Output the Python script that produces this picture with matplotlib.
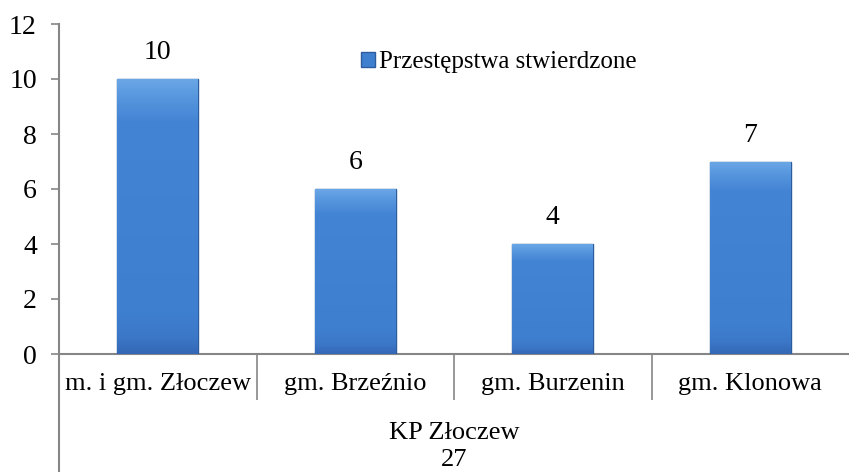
import numpy as np
import matplotlib
matplotlib.use("Agg")
from matplotlib import pyplot as plt
from matplotlib import transforms

categories = ["m. i gm. Złoczew", "gm. Brzeźnio", "gm. Burzenin", "gm. Klonowa"]
values = [10, 6, 4, 7]
group_label = "KP Złoczew"
group_total = "27"
series_name = "Przestępstwa stwierdzone"
y_ticks = [0, 2, 4, 6, 8, 10, 12]

plt.rcParams['font.family'] = ['Liberation Serif', 'DejaVu Serif']
gray = "#868686"

fig = plt.figure(figsize=(8.49, 4.72), dpi=100)
ax = fig.add_axes([59 / 849, 1 - 354 / 472, 790 / 849, 330 / 472])

x = np.arange(len(categories))
bars = ax.bar(x, values, width=0.41, color="#3f7fd0", edgecolor="#2c5c9c",
              linewidth=1.0, label=series_name, zorder=3)

# flat body with a lighter top bevel and darker foot
cmap = matplotlib.colors.LinearSegmentedColormap.from_list(
    "bar", [(0.0, "#3468b6"), (0.06, "#3c78c8"), (0.15, "#3f7fd0"),
            (0.85, "#4484d4"), (0.93, "#5595dd"), (1.0, "#6aa6e6")])
for b in bars:
    h = b.get_height()
    grad = np.linspace(0, 1, 200).reshape(-1, 1)
    im = ax.imshow(grad, extent=[b.get_x(), b.get_x() + b.get_width(), 0, h],
                   origin="lower", cmap=cmap, aspect="auto", zorder=3)
    im.set_clip_path(b)

for xi, v in zip(x, values):
    ax.text(xi, v + 0.95, str(v), ha="center", va="center", fontsize=20)

ax.set_xlim(-0.5, len(categories) - 0.5)
ax.set_ylim(0, 12)
ax.set_yticks(y_ticks)
ax.tick_params(axis="y", labelsize=20, length=6, width=1.2, color=gray, pad=10)

# boundaries as long major ticks, labels on minor ticks
ax.set_xticks(np.arange(len(categories) - 1) + 0.5)
ax.set_xticklabels([])
ax.tick_params(axis="x", which="major", length=33, width=1.2, color=gray)
ax.set_xticks(x, minor=True)
ax.set_xticklabels(categories, minor=True)
ax.tick_params(axis="x", which="minor", length=0, labelsize=19, pad=14)

for side in ["top", "right"]:
    ax.spines[side].set_visible(False)
for side in ["left", "bottom"]:
    ax.spines[side].set_color(gray)
    ax.spines[side].set_linewidth(1.5)

# left axis line continued below the axis to the figure bottom
trans = transforms.blended_transform_factory(ax.transAxes, fig.transFigure)
ax.plot([0, 0], [0, 1 - 354 / 472], transform=trans, color=gray, lw=1.5, clip_on=False)

ax.text(0.5, 1 - 433 / 472, group_label, transform=trans, ha="center", va="center", fontsize=19)
ax.text(0.5, 1 - 460 / 472, group_total, transform=trans, ha="center", va="center", fontsize=19)

ax.legend(loc="upper center", bbox_to_anchor=(0.557, 0.985), frameon=False, fontsize=18,
          handlelength=0.55, handleheight=0.55, handletextpad=0.15)

fig.savefig("out.png", dpi=100)
